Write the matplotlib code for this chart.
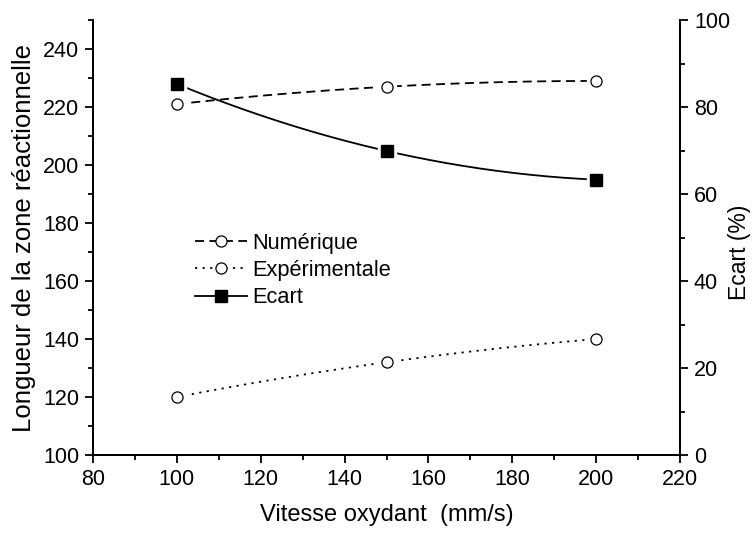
import matplotlib.pyplot as plt
import numpy as np

plt.rcParams['font.family'] = ['Liberation Sans', 'DejaVu Sans']

vitesse = [100, 150, 200]
numerique = [221, 227, 229]
experimentale = [120, 132, 140]
ecart = [85.3, 69.9, 63.3]


def smooth(x, y):
    # quadratic through the three points, drawn as a smooth curve
    c = np.polyfit(x, y, 2)
    xs = np.linspace(min(x), max(x), 200)
    return xs, np.polyval(c, xs)


fig = plt.figure(figsize=(7.52, 5.33), dpi=100)
ax = fig.add_axes([0.1237, 0.1463, 0.7806, 0.8161])
ax2 = ax.twinx()

lw = 1.3
ms = 8
xs, ys = smooth(vitesse, numerique)
ax.plot(xs, ys, color='black', lw=lw, dashes=(5, 3))
xs, ys = smooth(vitesse, experimentale)
ax.plot(xs, ys, color='black', lw=lw, dashes=(1.2, 3))
xs, ys = smooth(vitesse, ecart)
ax2.plot(xs, ys, color='black', lw=lw)

# white halo under markers so lines stop short of them
ax.plot(vitesse, numerique, 'o', ms=ms + 5, color='white', mec='white', zorder=3)
ax.plot(vitesse, experimentale, 'o', ms=ms + 5, color='white', mec='white', zorder=3)
ax2.plot(vitesse, ecart, 's', ms=ms + 5, color='white', mec='white', zorder=3)
ax.plot(vitesse, numerique, 'o', ms=ms, mfc='white', mec='black', mew=0.9, zorder=4)
ax.plot(vitesse, experimentale, 'o', ms=ms, mfc='white', mec='black', mew=0.9, zorder=4)
ax2.plot(vitesse, ecart, 's', ms=ms, color='black', zorder=4)

ax.set_xlim(80, 220)
ax.set_ylim(100, 250)
ax2.set_ylim(0, 100)
ax.set_xticks(np.arange(80, 221, 20))
ax.set_xticks(np.arange(90, 220, 20), minor=True)
ax.set_yticks(np.arange(100, 241, 20))
ax.set_yticks(np.arange(110, 251, 20), minor=True)
ax2.set_yticks(np.arange(0, 101, 20))
ax2.set_yticks(np.arange(10, 100, 20), minor=True)

for a in (ax, ax2):
    a.spines['top'].set_visible(False)
    for s in a.spines.values():
        s.set_linewidth(1.3)
    a.tick_params(which='major', direction='out', length=6, width=1.3, labelsize=15.5, pad=4)
    a.tick_params(which='minor', direction='out', length=3.5, width=1.3)

ax.set_xlabel('Vitesse oxydant  (mm/s)', fontsize=17, labelpad=10)
ax.set_ylabel('Longueur de la zone réactionnelle', fontsize=18.5, labelpad=5)
ax2.set_ylabel('Ecart (%)', fontsize=16.5)
ax2.yaxis.set_label_coords(1.082, 0.467)

h1, = ax.plot([], [], color='black', lw=lw, dashes=(5, 3), marker='o', ms=ms, mfc='white', mec='black', mew=0.9)
h2, = ax.plot([], [], color='black', lw=lw, dashes=(1.2, 3), marker='o', ms=ms, mfc='white', mec='black', mew=0.9)
h3, = ax.plot([], [], color='black', lw=lw, marker='s', ms=ms)
ax.legend([h1, h2, h3], ['Numérique', 'Expérimentale', 'Ecart'], frameon=False, fontsize=15.7,
          loc='upper left', bbox_to_anchor=(0.174, 0.511), handlelength=2.4, handletextpad=0.2,
          labelspacing=0.29, borderaxespad=0, borderpad=0)

fig.savefig('out.png', dpi=100)
